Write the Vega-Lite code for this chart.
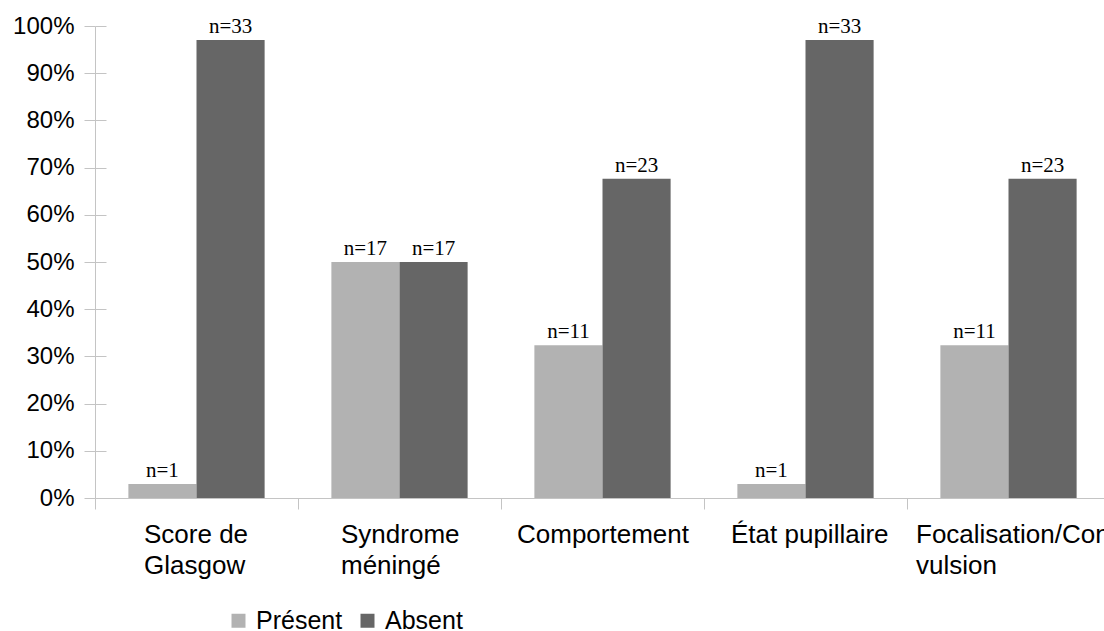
{
  "$schema": "https://vega.github.io/schema/vega-lite/v6.json",
  "autosize": "none",
  "width": 1009,
  "height": 472,
  "padding": {"left": 95, "top": 26, "right": 0, "bottom": 133},
  "background": "white",
  "config": {
    "view": {"stroke": null},
    "axis": {"grid": false, "domainColor": "#c4c4c4", "tickColor": "#c4c4c4", "labelColor": "#000000", "labelFont": "Liberation Sans", "labelFontSize": 24}
  },
  "data": {
    "values": [
      {"category": "Score de Glasgow", "status": "Présent", "pct": 2.94, "n": "n=1"},
      {"category": "Score de Glasgow", "status": "Absent", "pct": 97.06, "n": "n=33"},
      {"category": "Syndrome méningé", "status": "Présent", "pct": 50, "n": "n=17"},
      {"category": "Syndrome méningé", "status": "Absent", "pct": 50, "n": "n=17"},
      {"category": "Comportement", "status": "Présent", "pct": 32.35, "n": "n=11"},
      {"category": "Comportement", "status": "Absent", "pct": 67.65, "n": "n=23"},
      {"category": "État pupillaire", "status": "Présent", "pct": 2.94, "n": "n=1"},
      {"category": "État pupillaire", "status": "Absent", "pct": 97.06, "n": "n=33"},
      {"category": "Focalisation/Convulsion", "status": "Présent", "pct": 32.35, "n": "n=11"},
      {"category": "Focalisation/Convulsion", "status": "Absent", "pct": 67.65, "n": "n=23"}
    ]
  },
  "encoding": {
    "x": {
      "field": "category",
      "type": "nominal",
      "sort": ["Score de Glasgow", "Syndrome méningé", "Comportement", "État pupillaire", "Focalisation/Convulsion"],
      "scale": {"paddingInner": 0, "paddingOuter": 0, "range": [0, 1015]},
      "axis": {
        "title": null,
        "tickBand": "extent",
        "tickSize": 11,
        "labelAngle": 0,
        "labelAlign": "left",
        "labelBaseline": "top",
        "labelPadding": 12,
        "labelFontSize": 26,
        "labelLimit": 0,
        "labelLineHeight": 31,
        "labelOverlap": false,
        "labelExpr": "datum.value == 'Score de Glasgow' ? ['Score de', 'Glasgow'] : datum.value == 'Syndrome méningé' ? ['Syndrome', 'méningé'] : datum.value == 'Focalisation/Convulsion' ? ['Focalisation/Con', 'vulsion'] : datum.label",
        "labelOffset": {
          "condition": [
            {"test": "datum.value == 'Score de Glasgow'", "value": -53},
            {"test": "datum.value == 'Syndrome méningé'", "value": -59},
            {"test": "datum.value == 'Comportement'", "value": -86},
            {"test": "datum.value == 'État pupillaire'", "value": -75}
          ],
          "value": -93
        }
      }
    },
    "xOffset": {
      "field": "status",
      "type": "nominal",
      "sort": ["Présent", "Absent"],
      "scale": {"paddingInner": 0, "paddingOuter": 0.49}
    },
    "y": {
      "field": "pct",
      "type": "quantitative",
      "scale": {"domain": [0, 100], "nice": false},
      "axis": {
        "title": null,
        "values": [0, 10, 20, 30, 40, 50, 60, 70, 80, 90, 100],
        "labelExpr": "datum.value + '%'",
        "tickSize": 11,
        "labelPadding": 10
      }
    }
  },
  "layer": [
    {
      "mark": {"type": "bar"},
      "encoding": {
        "color": {
          "field": "status",
          "type": "nominal",
          "sort": ["Présent", "Absent"],
          "scale": {"domain": ["Présent", "Absent"], "range": ["#b2b2b2", "#666666"]},
          "legend": {
            "title": null,
            "orient": "none",
            "direction": "horizontal",
            "legendX": 131,
            "legendY": 582,
            "padding": 0,
            "symbolType": "square",
            "symbolSize": 196,
            "symbolStrokeWidth": 0,
            "labelFont": "Liberation Sans",
            "labelFontSize": 25,
            "labelColor": "#000000",
            "labelOffset": 5,
            "columnPadding": 12
          }
        }
      }
    },
    {
      "mark": {"type": "text", "baseline": "alphabetic", "dy": -7, "font": "Liberation Serif", "fontSize": 21, "color": "#000000"},
      "encoding": {
        "text": {"field": "n"},
        "y": {
          "field": "pct",
          "type": "quantitative",
          "axis": {
            "orient": "right",
            "offset": -1009,
            "title": null,
            "labels": false,
            "domain": false,
            "values": [0, 10, 20, 30, 40, 50, 60, 70, 80, 90, 100],
            "tickSize": 11
          }
        }
      }
    }
  ],
  "resolve": {"axis": {"y": "independent"}}
}
